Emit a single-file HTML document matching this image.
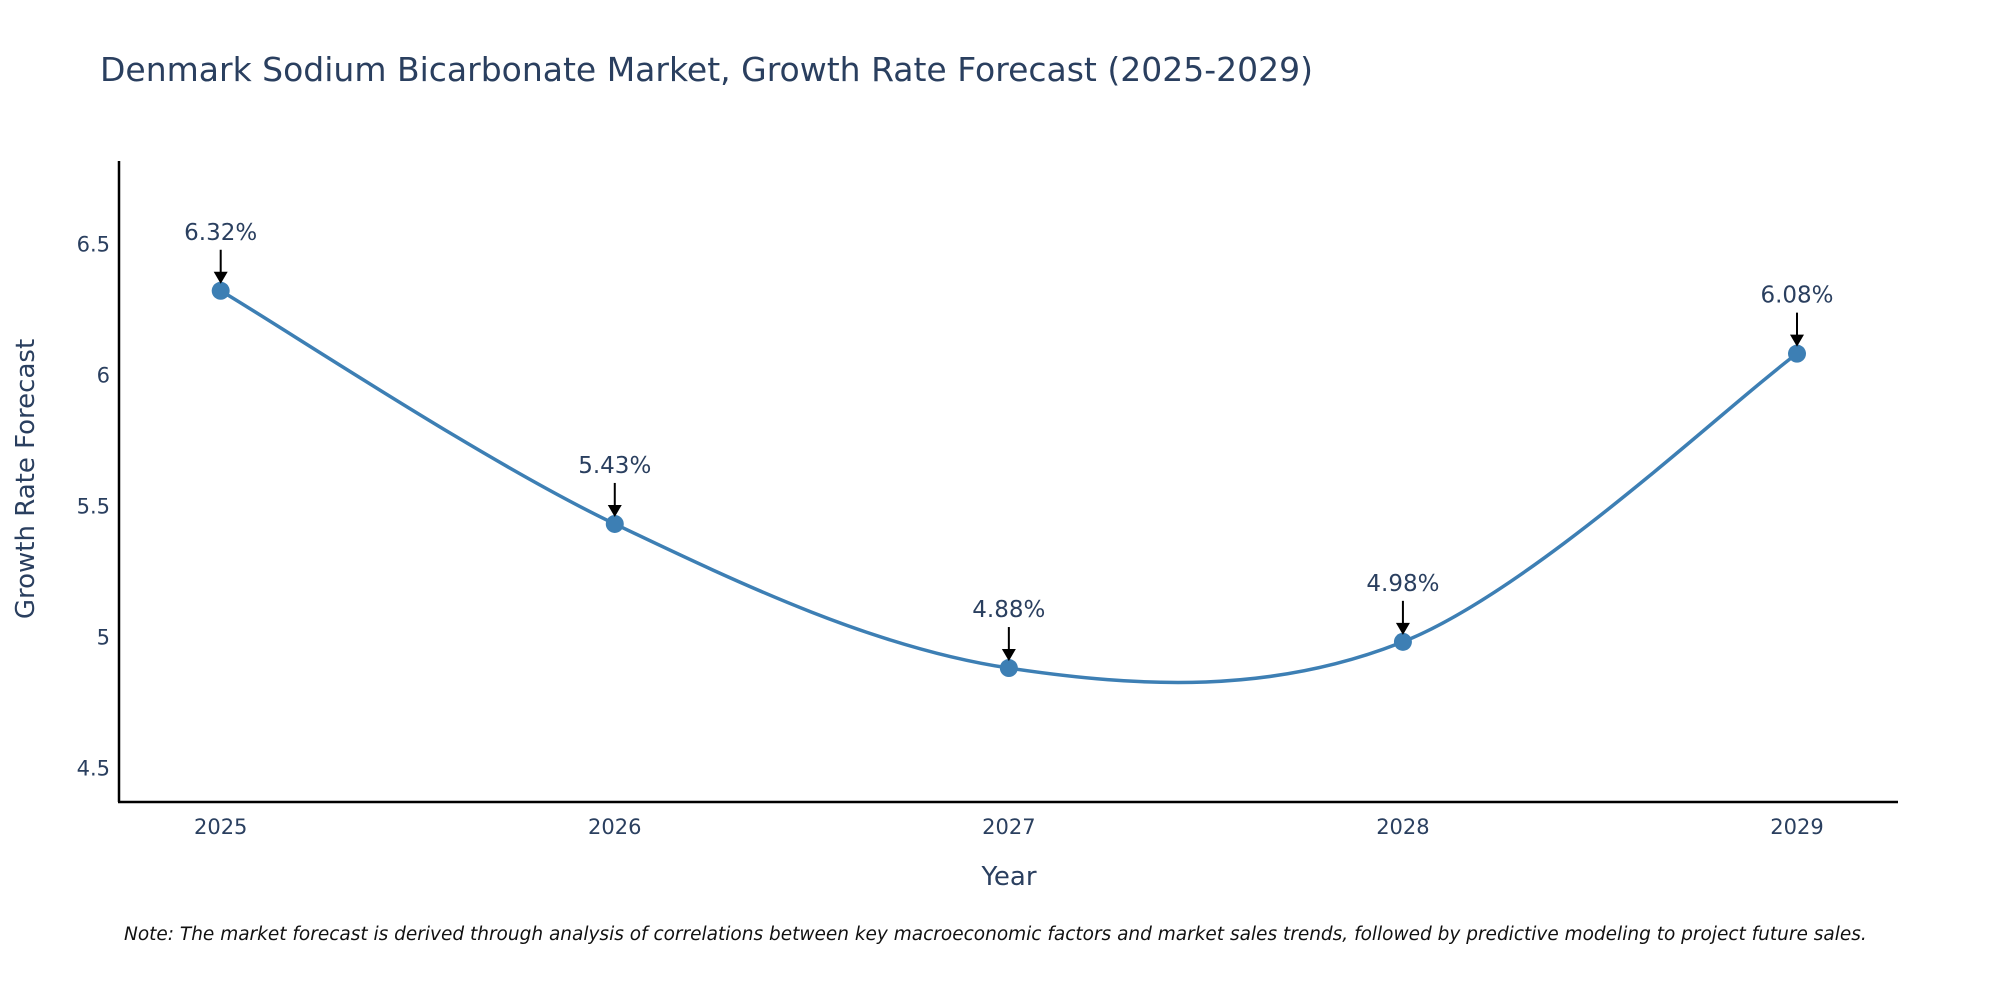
<!DOCTYPE html>
<html><head><meta charset="utf-8"><style>
body{margin:0;background:#fff;}
svg{display:block;font-family:"DejaVu Sans","Liberation Sans",sans-serif;}
</style></head><body>
<svg id="chart" width="2000" height="1000" xmlns="http://www.w3.org/2000/svg">
<text x="100" y="81" font-size="33" fill="#2a3f5f">Denmark Sodium Bicarbonate Market, Growth Rate Forecast (2025-2029)</text>
<line x1="119" y1="161" x2="119" y2="802" stroke="#000" stroke-width="2.5"/>
<line x1="118" y1="802" x2="1898" y2="802" stroke="#000" stroke-width="2.5"/>
<g id="yticks"></g><g id="xticks"></g>
<path id="line" fill="none" stroke="#3d7fb4" stroke-width="3.5"/>
<g id="points"></g>
<text x="1009" y="885" font-size="26" fill="#2a3f5f" text-anchor="middle">Year</text>
<text x="34" y="479" font-size="26" fill="#2a3f5f" text-anchor="middle" transform="rotate(-90 34 479)">Growth Rate Forecast</text>
<text x="124" y="940" font-size="18.5" font-style="italic" fill="#111">Note: The market forecast is derived through analysis of correlations between key macroeconomic factors and market sales trends, followed by predictive modeling to project future sales.</text>
</svg>
<script>
const years=[2025,2026,2027,2028,2029];
const values=[6.32,5.43,4.88,4.98,6.08];
const labels=["6.32%","5.43%","4.88%","4.98%","6.08%"];
const yTicks=[4.5,5,5.5,6,6.5];
const yTickLabels=["4.5","5","5.5","6","6.5"];
const NS="http://www.w3.org/2000/svg";
function sx(v){return 220.7+(v-2025)*(1797-220.7)/4;}
function sy(v){return 374.6-(v-6)*262;}
function mk(t,a,p){const e=document.createElementNS(NS,t);for(const k in a)e.setAttribute(k,a[k]);if(p)p.appendChild(e);return e;}
const yt=document.getElementById('yticks');
yTicks.forEach((t,i)=>{const e=mk('text',{x:110,y:sy(t)+8,'font-size':21,fill:'#2a3f5f','text-anchor':'end'},yt);e.textContent=yTickLabels[i];

});
const xt=document.getElementById('xticks');
years.forEach(y=>{const e=mk('text',{x:sx(y),y:834,'font-size':21,fill:'#2a3f5f','text-anchor':'middle'},xt);e.textContent=String(y);

});
const P=years.map((y,i)=>[sx(y),sy(values[i])]);
let d='M'+P[0][0]+','+P[0][1];
for(let i=0;i<P.length-1;i++){const p0=P[Math.max(0,i-1)],p1=P[i],p2=P[i+1],p3=P[Math.min(P.length-1,i+2)];
const k=1/6;d+=' C'+(p1[0]+(p2[0]-p0[0])*k)+','+(p1[1]+(p2[1]-p0[1])*k)+' '+(p2[0]-(p3[0]-p1[0])*k)+','+(p2[1]-(p3[1]-p1[1])*k)+' '+p2[0]+','+p2[1];}
document.getElementById('line').setAttribute('d',d);
const pg=document.getElementById('points');
P.forEach((p,i)=>{const c=mk('circle',{cx:p[0],cy:p[1],r:9,fill:'#3d7fb4'},pg);


const l=mk('line',{x1:p[0],y1:p[1]-41,x2:p[0],y2:p[1]-16,stroke:'#000','stroke-width':2},pg);


const h=mk('path',{d:`M${p[0]-7},${p[1]-19} L${p[0]+7},${p[1]-19} L${p[0]},${p[1]-7} Z`,fill:'#000'},pg);


const t=mk('text',{x:p[0],y:p[1]-51,'font-size':23,fill:'#2a3f5f','text-anchor':'middle'},pg);t.textContent=labels[i];

});
</script>
</body></html>
